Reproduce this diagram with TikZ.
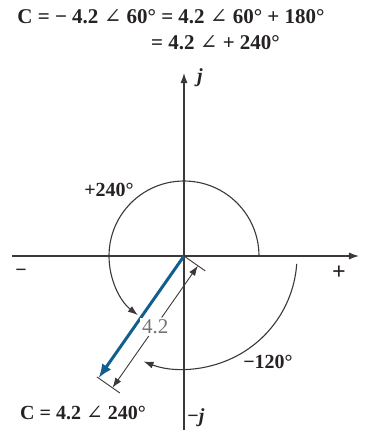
\documentclass[tikz,border=0pt]{standalone}
\usepackage{fontspec}
\setmainfont{Liberation Serif}
\newfontfamily\symfont{DejaVu Serif}
\usetikzlibrary{arrows.meta,calc}
\definecolor{inkgray}{RGB}{60,56,56}
\definecolor{inkblack}{RGB}{38,34,35}
\definecolor{phasorblue}{RGB}{18,94,140}
\newcommand{\ang}{{\symfont\mdseries ∠}}

\begin{document}
\begin{tikzpicture}[x=1pt,y=1pt,
    axis/.style={line width=1.1pt,draw=inkgray},
    tip/.style={-{Latex[length=10pt,width=7pt]}},
    phasor/.style={line width=3pt,draw=phasorblue,-{Latex[length=14pt,width=11pt]}},
    dimline/.style={line width=0.9pt,draw=inkgray},
    lbl/.style={font=\fontsize{20}{22}\selectfont\bfseries,text=inkblack,inner sep=0pt}]
    \useasboundingbox (-184,-176) rectangle (187,256);
    \coordinate (O) at (0,0);
    \coordinate (xl) at (-172,0);
    \coordinate (xr) at (175,0);
    \coordinate (yb) at (0,-174);
    \coordinate (yt) at (0,183);
    \draw[axis,tip] (xl) -- (xr);
    \draw[axis,tip] (yb) -- (yt);
    % angle arcs
    \draw[axis,tip] (75,0) arc[start angle=0,end angle=232,radius=75pt];
    \draw[axis,tip] (-4:113) arc[start angle=-4,end angle=-111,radius=113pt];
    % phasor and its length
    \coordinate (C) at (235:149);
    \draw[phasor] (O) -- (C);
    \coordinate (d1) at ($(O)+(325:17)$);
    \coordinate (d2) at ($(C)+(325:17)$);
    \draw[dimline] (O) -- ($(O)+(325:26)$);
    \draw[dimline] ($(C)+(145:2)$) -- ($(C)+(325:26)$);
    \node[font=\fontsize{21}{22}\selectfont,text=gray!90!black,fill=white,inner sep=2pt] (len) at ($(d1)!0.5!(d2)$) {4.2};
    \draw[dimline,tip] (len) -- (d1);
    \draw[dimline,tip] (len) -- (d2);
    % labels
    \node[lbl] (jp) at (16,178) {\textit{j}};
    \node[lbl] (jm) at (12,-162) {−\textit{j}};
    \node[lbl] (minus) at (-163,-17) {−};
    \node[lbl,font=\fontsize{24}{24}\selectfont\bfseries] (plus) at (155,-17) {+};
    \node[lbl] (a240) at (-75,66) {+240°};
    \node[lbl] (a120) at (84,-106) {−120°};
    \node[lbl] (cres) at (-101,-157) {C = 4.2 \ang{} 240°};
    \node[lbl,font=\fontsize{21}{22}\selectfont\bfseries] (eq1) at (-13,239) {C = − 4.2 \ang{} 60° = 4.2 \ang{} 60° + 180°};
    \node[lbl,font=\fontsize{21}{22}\selectfont\bfseries,anchor=west] (eq2) at (-33,213) {= 4.2 \ang{} + 240°};
\end{tikzpicture}
\end{document}
